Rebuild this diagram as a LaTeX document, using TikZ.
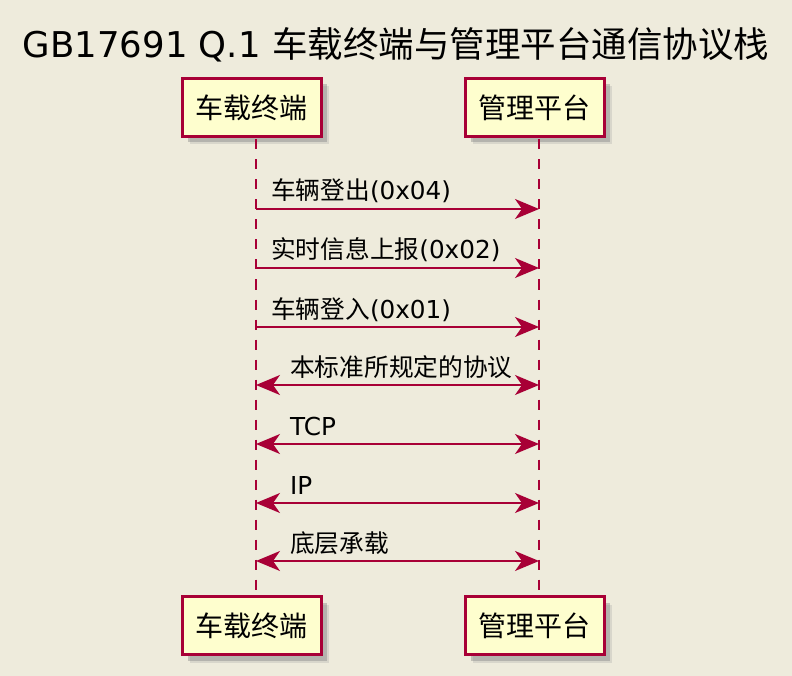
\documentclass[tikz,border=0pt]{standalone}
\usepackage{fontspec}
\setmainfont{DejaVu Sans}
\newfontfamily\cjk{Noto Sans CJK SC}
\usepackage{xcolor}
\usepackage{tikz}
\usetikzlibrary{arrows.meta,positioning,shadows}
\definecolor{umlbg}{HTML}{EEEBDC}
\definecolor{umlred}{HTML}{A80036}
\definecolor{umlbox}{HTML}{FEFECE}
\tikzset{
  lifelinedash/.style={draw=umlred, line width=2pt, dash pattern=on 10pt off 10pt}
}

\begin{document}
\begin{tikzpicture}[x=1pt, y=-1pt,
    participant/.style={draw=umlred, fill=umlbox, line width=3pt,
      minimum width=139pt, minimum height=58pt, inner sep=0pt,
      font=\cjk\fontsize{28}{30}\selectfont,
      drop shadow={shadow xshift=8pt, shadow yshift=-8pt, fill=black!40, opacity=.25},
      drop shadow={shadow xshift=6pt, shadow yshift=-6pt, fill=black!50, opacity=.4}},
    msg/.style={umlred, line width=1.6pt,
      -{Stealth[length=24pt,width=20pt,inset=7pt]}},
    both/.style={msg, {Stealth[length=24pt,width=20pt,inset=7pt]}-{Stealth[length=24pt,width=20pt,inset=7pt]}},
    msglabel/.style={anchor=base west, inner sep=0pt, font=\fontsize{24.7}{26}\selectfont}
  ]
  % background
  \fill[umlbg] (0,0) rectangle (792,676);
  \useasboundingbox (0,0) rectangle (792,676);

  % title
  \node[anchor=base, font=\fontsize{35.5}{38}\selectfont] (title) at (396,58)
    {GB17691 Q.1 {\cjk 车载终端与管理平台通信协议栈}};

  % participants
  \node[participant] (car) at (251.5,107.5) {车载终端};
  \node[participant] (plat) at (534.5,107.5) {管理平台};
  \node[participant] (carB) at (251.5,625.5) {车载终端};
  \node[participant] (platB) at (534.5,625.5) {管理平台};

  % lifelines
  \coordinate (carL) at ([xshift=4.5pt,yshift=-1.5pt]car.south);
  \coordinate (platL) at ([xshift=4.5pt,yshift=-1.5pt]plat.south);
  \coordinate (carE) at ([xshift=4.5pt,yshift=1.5pt]carB.north);
  \coordinate (platE) at ([xshift=4.5pt,yshift=1.5pt]platB.north);
  \draw[lifelinedash] (carL) -- (carE);
  \draw[lifelinedash] (platL) -- (platE);

  % messages
  \coordinate (m1a) at (carL |- 0,209);
  \coordinate (m1b) at (platL |- 0,209);
  \draw[msg] (m1a) -- (m1b);
  \node[msglabel] (t1) at ([xshift=15pt,yshift=9pt]m1a) {{\cjk 车辆登出}(0x04)};

  \coordinate (m2a) at (carL |- 0,268);
  \coordinate (m2b) at (platL |- 0,268);
  \draw[msg] (m2a) -- (m2b);
  \node[msglabel] (t2) at ([xshift=15pt,yshift=9pt]m2a) {{\cjk 实时信息上报}(0x02)};

  \coordinate (m3a) at (carL |- 0,327);
  \coordinate (m3b) at (platL |- 0,327);
  \draw[msg] (m3a) -- (m3b);
  \node[msglabel] (t3) at ([xshift=15pt,yshift=9pt]m3a) {{\cjk 车辆登入}(0x01)};

  \coordinate (m4a) at (carL |- 0,385);
  \coordinate (m4b) at (platL |- 0,385);
  \draw[both] (m4a) -- (m4b);
  \node[msglabel] (t4) at ([xshift=34pt,yshift=9pt]m4a) {\cjk 本标准所规定的协议};

  \coordinate (m5a) at (carL |- 0,444);
  \coordinate (m5b) at (platL |- 0,444);
  \draw[both] (m5a) -- (m5b);
  \node[msglabel] (t5) at ([xshift=34pt,yshift=9pt]m5a) {TCP};

  \coordinate (m6a) at (carL |- 0,503);
  \coordinate (m6b) at (platL |- 0,503);
  \draw[both] (m6a) -- (m6b);
  \node[msglabel] (t6) at ([xshift=34pt,yshift=9pt]m6a) {IP};

  \coordinate (m7a) at (carL |- 0,561);
  \coordinate (m7b) at (platL |- 0,561);
  \draw[both] (m7a) -- (m7b);
  \node[msglabel] (t7) at ([xshift=34pt,yshift=9pt]m7a) {\cjk 底层承载};
\end{tikzpicture}
\end{document}
